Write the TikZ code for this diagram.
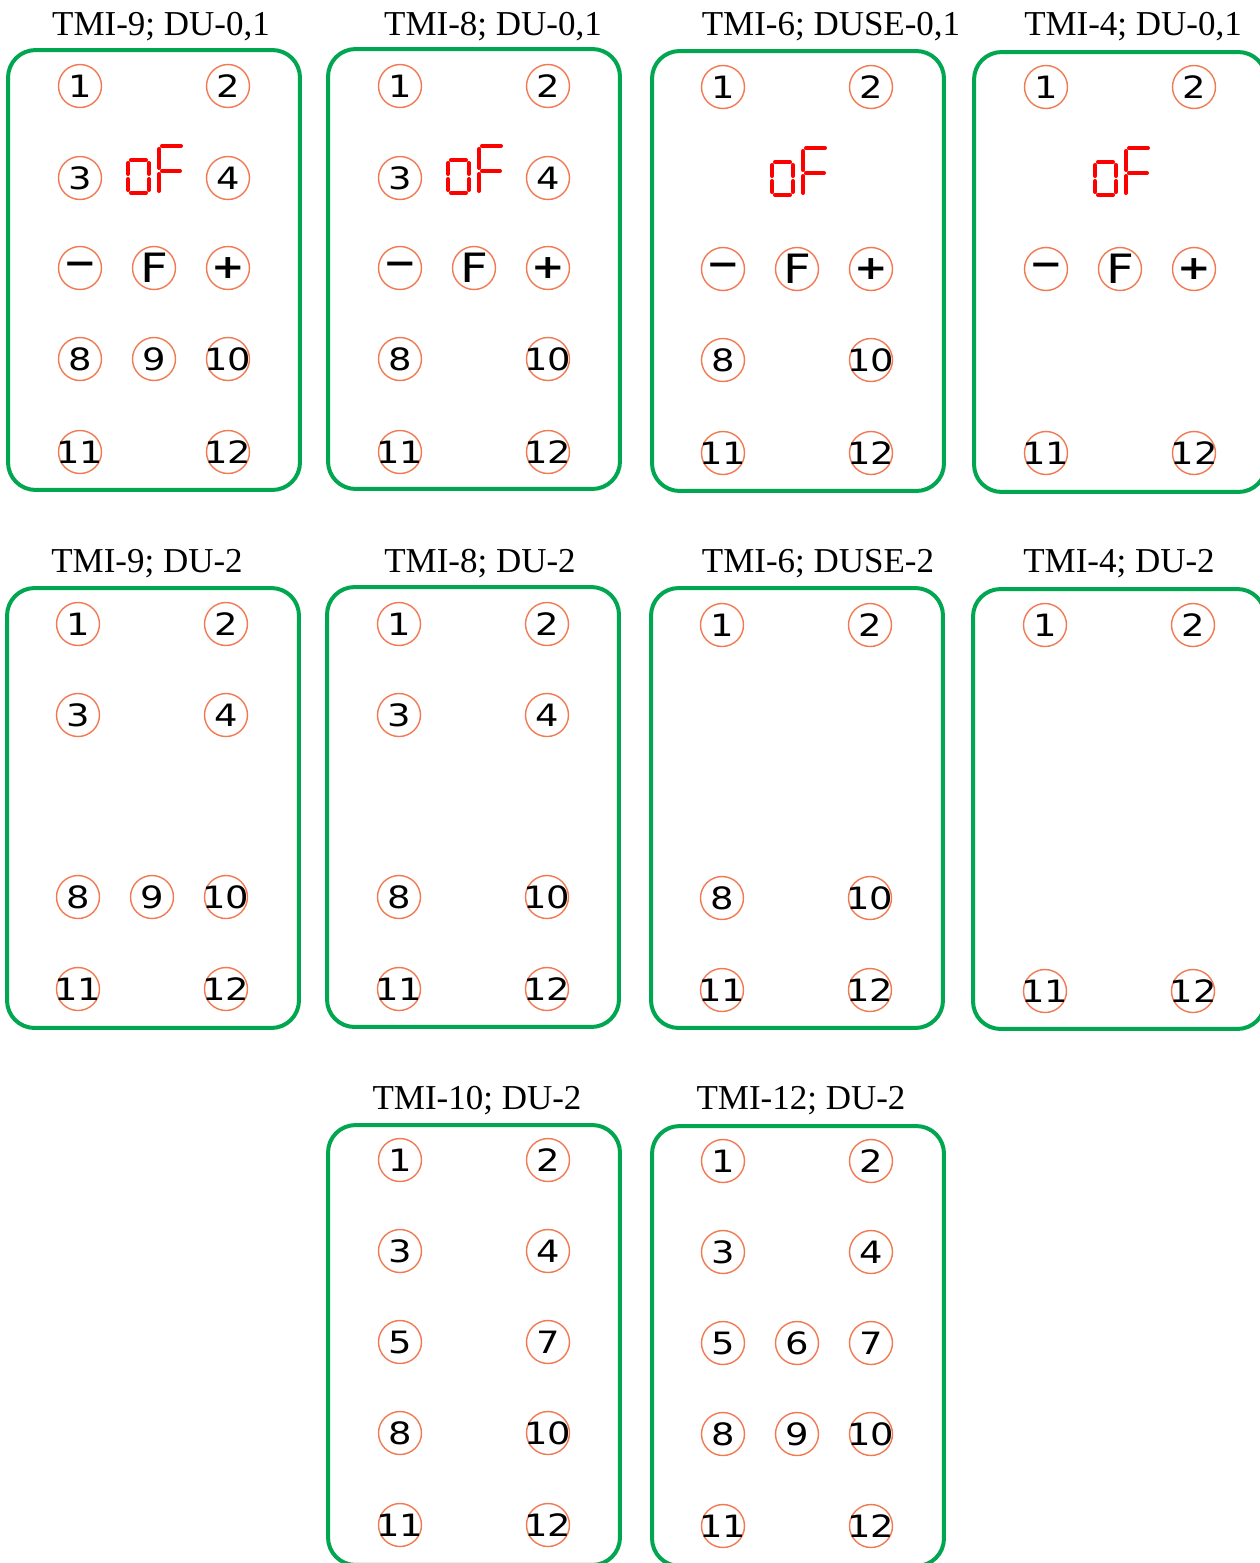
\documentclass[tikz,border=0pt]{standalone}
\usepackage{fontspec}
\setmainfont{Liberation Serif}
\newfontfamily\padface[FakeStretch=1.2]{DejaVu Sans}
\definecolor{panelgreen}{RGB}{0,166,80}
\definecolor{padline}{RGB}{242,122,82}
\definecolor{segred}{RGB}{255,0,0}

\begin{document}
\begin{tikzpicture}[
  x=0.02cm, y=-0.02cm,
  panel/.style={draw=panelgreen, line width=0.08cm, rounded corners=0.55cm, minimum width=5.84cm, minimum height=8.8cm, inner sep=0pt},
  title/.style={anchor=base, inner sep=0pt, font=\fontsize{19.9}{22}\selectfont},
  pad/.style={circle, draw=padline, line width=0.8pt, minimum size=0.86cm, inner sep=-6pt, font=\padface\fontsize{17.5}{17.5}\selectfont},
  fkey/.style={pad, font=\padface\fontsize{23}{23}\selectfont},
  signkey/.style={pad, font=\padface\bfseries\fontsize{19}{19}\selectfont},
  seg/.style={draw=segred, line width=0.08cm, line cap=round},
  ofdisp/.pic={
    \draw[seg] (-23,-18) -- (-8,-18) (-23,15) -- (-8,15)
      (-26,-15) -- (-26,-4) (-26,1) -- (-26,12)
      (-5,-15) -- (-5,-4) (-5,1) -- (-5,12);
    \draw[seg] (5,-29) -- (5,-10) (5,-4) -- (5,13) (8,-32) -- (27,-32) (8,-7) -- (26,-7);
  }
]
\useasboundingbox (0,0) rectangle (1259,1563);

% first row: DU-0,1
\node[panel] (tmi9a) at (154,270) {};
\node[panel] (tmi8a) at (474,269) {};
\node[panel] (tmi6a) at (798,271) {};
\node[panel] (tmi4a) at (1120,272) {};
\node[title] (t9a) at (161,35) {TMI-9; DU-0,1};
\node[title] (t8a) at (493,35) {TMI-8; DU-0,1};
\node[title] (t6a) at (831,35) {TMI-6; DUSE-0,1};
\node[title] (t4a) at (1133,35) {TMI-4; DU-0,1};

\node[pad] (a9-1) at (80,86) {1};
\node[pad] (a9-2) at (228,86) {2};
\node[pad] (a9-3) at (80,178) {3};
\node[pad] (a9-4) at (228,178) {4};
\pic (a9-of) at (154,178) {ofdisp};
\node[signkey] (a9-minus) at (80,268) {−};
\node[fkey] (a9-f) at (154,268) {F};
\node[signkey] (a9-plus) at (228,268) {+};
\node[pad] (a9-8) at (80,359) {8};
\node[pad] (a9-9) at (154,359) {9};
\node[pad] (a9-10) at (228,359) {10};
\node[pad] (a9-11) at (80,452) {11};
\node[pad] (a9-12) at (228,452) {12};

\node[pad] (a8-1) at (400,86) {1};
\node[pad] (a8-2) at (548,86) {2};
\node[pad] (a8-3) at (400,178) {3};
\node[pad] (a8-4) at (548,178) {4};
\pic (a8-of) at (474,178) {ofdisp};
\node[signkey] (a8-minus) at (400,268) {−};
\node[fkey] (a8-f) at (474,268) {F};
\node[signkey] (a8-plus) at (548,268) {+};
\node[pad] (a8-8) at (400,359) {8};
\node[pad] (a8-10) at (548,359) {10};
\node[pad] (a8-11) at (400,452) {11};
\node[pad] (a8-12) at (548,452) {12};

\node[pad] (a6-1) at (723,87) {1};
\node[pad] (a6-2) at (871,87) {2};
\pic (a6-of) at (798,180) {ofdisp};
\node[signkey] (a6-minus) at (723,269) {−};
\node[fkey] (a6-f) at (797,269) {F};
\node[signkey] (a6-plus) at (871,269) {+};
\node[pad] (a6-8) at (723,360) {8};
\node[pad] (a6-10) at (871,360) {10};
\node[pad] (a6-11) at (723,453) {11};
\node[pad] (a6-12) at (871,453) {12};

\node[pad] (a4-1) at (1046,87) {1};
\node[pad] (a4-2) at (1194,87) {2};
\pic (a4-of) at (1121,180) {ofdisp};
\node[signkey] (a4-minus) at (1046,269) {−};
\node[fkey] (a4-f) at (1120,269) {F};
\node[signkey] (a4-plus) at (1194,269) {+};
\node[pad] (a4-11) at (1046,453) {11};
\node[pad] (a4-12) at (1194,453) {12};

% second row: DU-2
\node[panel] (tmi9b) at (153,808) {};
\node[panel] (tmi8b) at (473,807) {};
\node[panel] (tmi6b) at (797,808) {};
\node[panel] (tmi4b) at (1119,809) {};
\node[title] (t9b) at (147,572) {TMI-9; DU-2};
\node[title] (t8b) at (480,572) {TMI-8; DU-2};
\node[title] (t6b) at (818,572) {TMI-6; DUSE-2};
\node[title] (t4b) at (1119,572) {TMI-4; DU-2};

\node[pad] (b9-1) at (78,624) {1};
\node[pad] (b9-2) at (226,624) {2};
\node[pad] (b9-3) at (78,715) {3};
\node[pad] (b9-4) at (226,715) {4};
\node[pad] (b9-8) at (78,897) {8};
\node[pad] (b9-9) at (152,897) {9};
\node[pad] (b9-10) at (226,897) {10};
\node[pad] (b9-11) at (78,989) {11};
\node[pad] (b9-12) at (226,989) {12};

\node[pad] (b8-1) at (399,624) {1};
\node[pad] (b8-2) at (547,624) {2};
\node[pad] (b8-3) at (399,715) {3};
\node[pad] (b8-4) at (547,715) {4};
\node[pad] (b8-8) at (399,897) {8};
\node[pad] (b8-10) at (547,897) {10};
\node[pad] (b8-11) at (399,989) {11};
\node[pad] (b8-12) at (547,989) {12};

\node[pad] (b6-1) at (722,625) {1};
\node[pad] (b6-2) at (870,625) {2};
\node[pad] (b6-8) at (722,898) {8};
\node[pad] (b6-10) at (870,898) {10};
\node[pad] (b6-11) at (722,990) {11};
\node[pad] (b6-12) at (870,990) {12};

\node[pad] (b4-1) at (1045,625) {1};
\node[pad] (b4-2) at (1193,625) {2};
\node[pad] (b4-11) at (1045,991) {11};
\node[pad] (b4-12) at (1193,991) {12};

% third row
\node[panel] (tmi10) at (474,1345) {};
\node[panel] (tmi12) at (798,1346) {};
\node[title] (t10) at (477,1109) {TMI-10; DU-2};
\node[title] (t12) at (801,1109) {TMI-12; DU-2};

\node[pad] (c10-1) at (400,1160) {1};
\node[pad] (c10-2) at (548,1160) {2};
\node[pad] (c10-3) at (400,1251) {3};
\node[pad] (c10-4) at (548,1251) {4};
\node[pad] (c10-5) at (400,1342) {5};
\node[pad] (c10-7) at (548,1342) {7};
\node[pad] (c10-8) at (400,1433) {8};
\node[pad] (c10-10) at (548,1433) {10};
\node[pad] (c10-11) at (400,1525) {11};
\node[pad] (c10-12) at (548,1525) {12};

\node[pad] (c12-1) at (723,1161) {1};
\node[pad] (c12-2) at (871,1161) {2};
\node[pad] (c12-3) at (723,1252) {3};
\node[pad] (c12-4) at (871,1252) {4};
\node[pad] (c12-5) at (723,1343) {5};
\node[pad] (c12-6) at (797,1343) {6};
\node[pad] (c12-7) at (871,1343) {7};
\node[pad] (c12-8) at (723,1434) {8};
\node[pad] (c12-9) at (797,1434) {9};
\node[pad] (c12-10) at (871,1434) {10};
\node[pad] (c12-11) at (723,1526) {11};
\node[pad] (c12-12) at (871,1526) {12};

\end{tikzpicture}
\end{document}
